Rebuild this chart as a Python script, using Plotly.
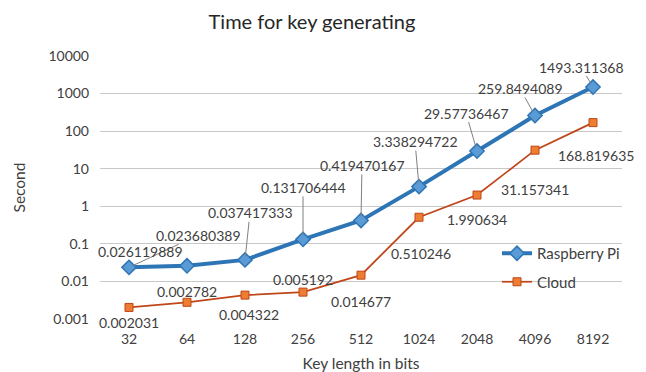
import math
import plotly.graph_objects as go

categories = ["32", "64", "128", "256", "512", "1024", "2048", "4096", "8192"]
rpi_values = [0.023680389, 0.026119889, 0.037417333, 0.131706444, 0.419470167,
              3.338294722, 29.57736467, 259.8494089, 1493.311368]
cloud_values = [0.002031, 0.002782, 0.004322, 0.005192, 0.014677,
                0.510246, 1.990634, 31.157341, 168.819635]
rpi_labels = ["0.023680389", "0.026119889", "0.037417333", "0.131706444", "0.419470167",
              "3.338294722", "29.57736467", "259.8494089", "1493.311368"]
cloud_labels = ["0.002031", "0.002782", "0.004322", "0.005192", "0.014677",
                "0.510246", "1.990634", "31.157341", "168.819635"]
y_tick_values = [0.001, 0.01, 0.1, 1, 10, 100, 1000, 10000]
y_tick_labels = ["0.001", "0.01", "0.1", "1", "10", "100", "1000", "10000"]

# label offsets in pixels (dx, dy screen; dy positive = down), leader flag
rpi_label_offsets = [(69, -32, True), (-47, -14, False), (5, -47, True), (0, -52, True),
                     (1, -55, True), (-4, -45, True), (-11, -38, True), (-15, -27, True),
                     (-12, -20, True)]
cloud_label_offsets = [(0, 15), (0, -11), (4, 19), (0, -13), (0, 26),
                       (2, 36), (0, 24), (0, 39), (3, 33)]

FONT = "Lato, Carlito, 'Liberation Sans', sans-serif"
TXT = "#404040"

fig = go.Figure()
fig.add_trace(go.Scatter(
    x=categories, y=rpi_values, name="Raspberry Pi", mode="lines+markers",
    line=dict(color="#2e75b6", width=4),
    marker=dict(symbol="diamond", size=11, color="#5b9bd5", line=dict(color="#2e75b6", width=1.5)),
    legendgroup="a"))
fig.add_trace(go.Scatter(
    x=categories, y=cloud_values, name="Cloud", mode="lines+markers",
    line=dict(color="#c0461a", width=1.75),
    marker=dict(symbol="square", size=8, color="#ed7d31", line=dict(color="#c0461a", width=1)),
    legendgroup="b"))

annotations = []
for i, (v, txt, (dx, dy, leader)) in enumerate(zip(rpi_values, rpi_labels, rpi_label_offsets)):
    if leader:
        annotations.append(dict(x=i, y=math.log10(v), xref="x", yref="y", text=txt,
                                showarrow=True, arrowhead=0, arrowwidth=1, arrowcolor="#7f7f7f",
                                ax=dx, ay=dy, standoff=4, borderpad=0,
                                font=dict(family=FONT, size=14, color=TXT)))
    else:
        annotations.append(dict(x=i, y=math.log10(v), xref="x", yref="y", text=txt,
                                showarrow=False, xshift=dx, yshift=-dy, borderpad=0,
                                font=dict(family=FONT, size=14, color=TXT)))
for i, (v, txt, (dx, dy)) in enumerate(zip(cloud_values, cloud_labels, cloud_label_offsets)):
    annotations.append(dict(x=i, y=math.log10(v), xref="x", yref="y", text=txt,
                            showarrow=False, xshift=dx, yshift=-dy, borderpad=0,
                            font=dict(family=FONT, size=14, color=TXT)))

fig.update_layout(
    width=646, height=372,
    margin=dict(l=100, r=24, t=56, b=53, autoexpand=False),
    paper_bgcolor="white", plot_bgcolor="white",
    font=dict(family=FONT, size=14, color=TXT),
    title=dict(text="Time for key generating", x=312 / 646, xanchor="center",
               y=1 - 22 / 372, yanchor="middle",
               font=dict(family=FONT, size=20, color="#262626")),
    xaxis=dict(type="category", range=[-0.5, 8.5], showgrid=False, zeroline=False,
               showline=False, ticks="", ticklabelstandoff=10, automargin=False,
               title=dict(text="Key length in bits", standoff=14,
                          font=dict(family=FONT, size=15.5, color=TXT))),
    yaxis=dict(type="log", range=[-3, 4], tickvals=y_tick_values, ticktext=y_tick_labels,
               showgrid=True, gridcolor="#c8c8c8", gridwidth=1, zeroline=False,
               showline=False, ticks="", ticklabelstandoff=10, automargin=False,
               title=dict(text="Second", standoff=18,
                          font=dict(family=FONT, size=15.5, color=TXT))),
    showlegend=True,
    legend=dict(x=(497 - 100) / 522, y=(319 - 237) / 263, xanchor="left", yanchor="top",
                bgcolor="rgba(0,0,0,0)", traceorder="grouped", tracegroupgap=6,
                font=dict(family=FONT, size=15, color=TXT), itemwidth=30),
    annotations=annotations,
)

fig.write_html("out.html")
